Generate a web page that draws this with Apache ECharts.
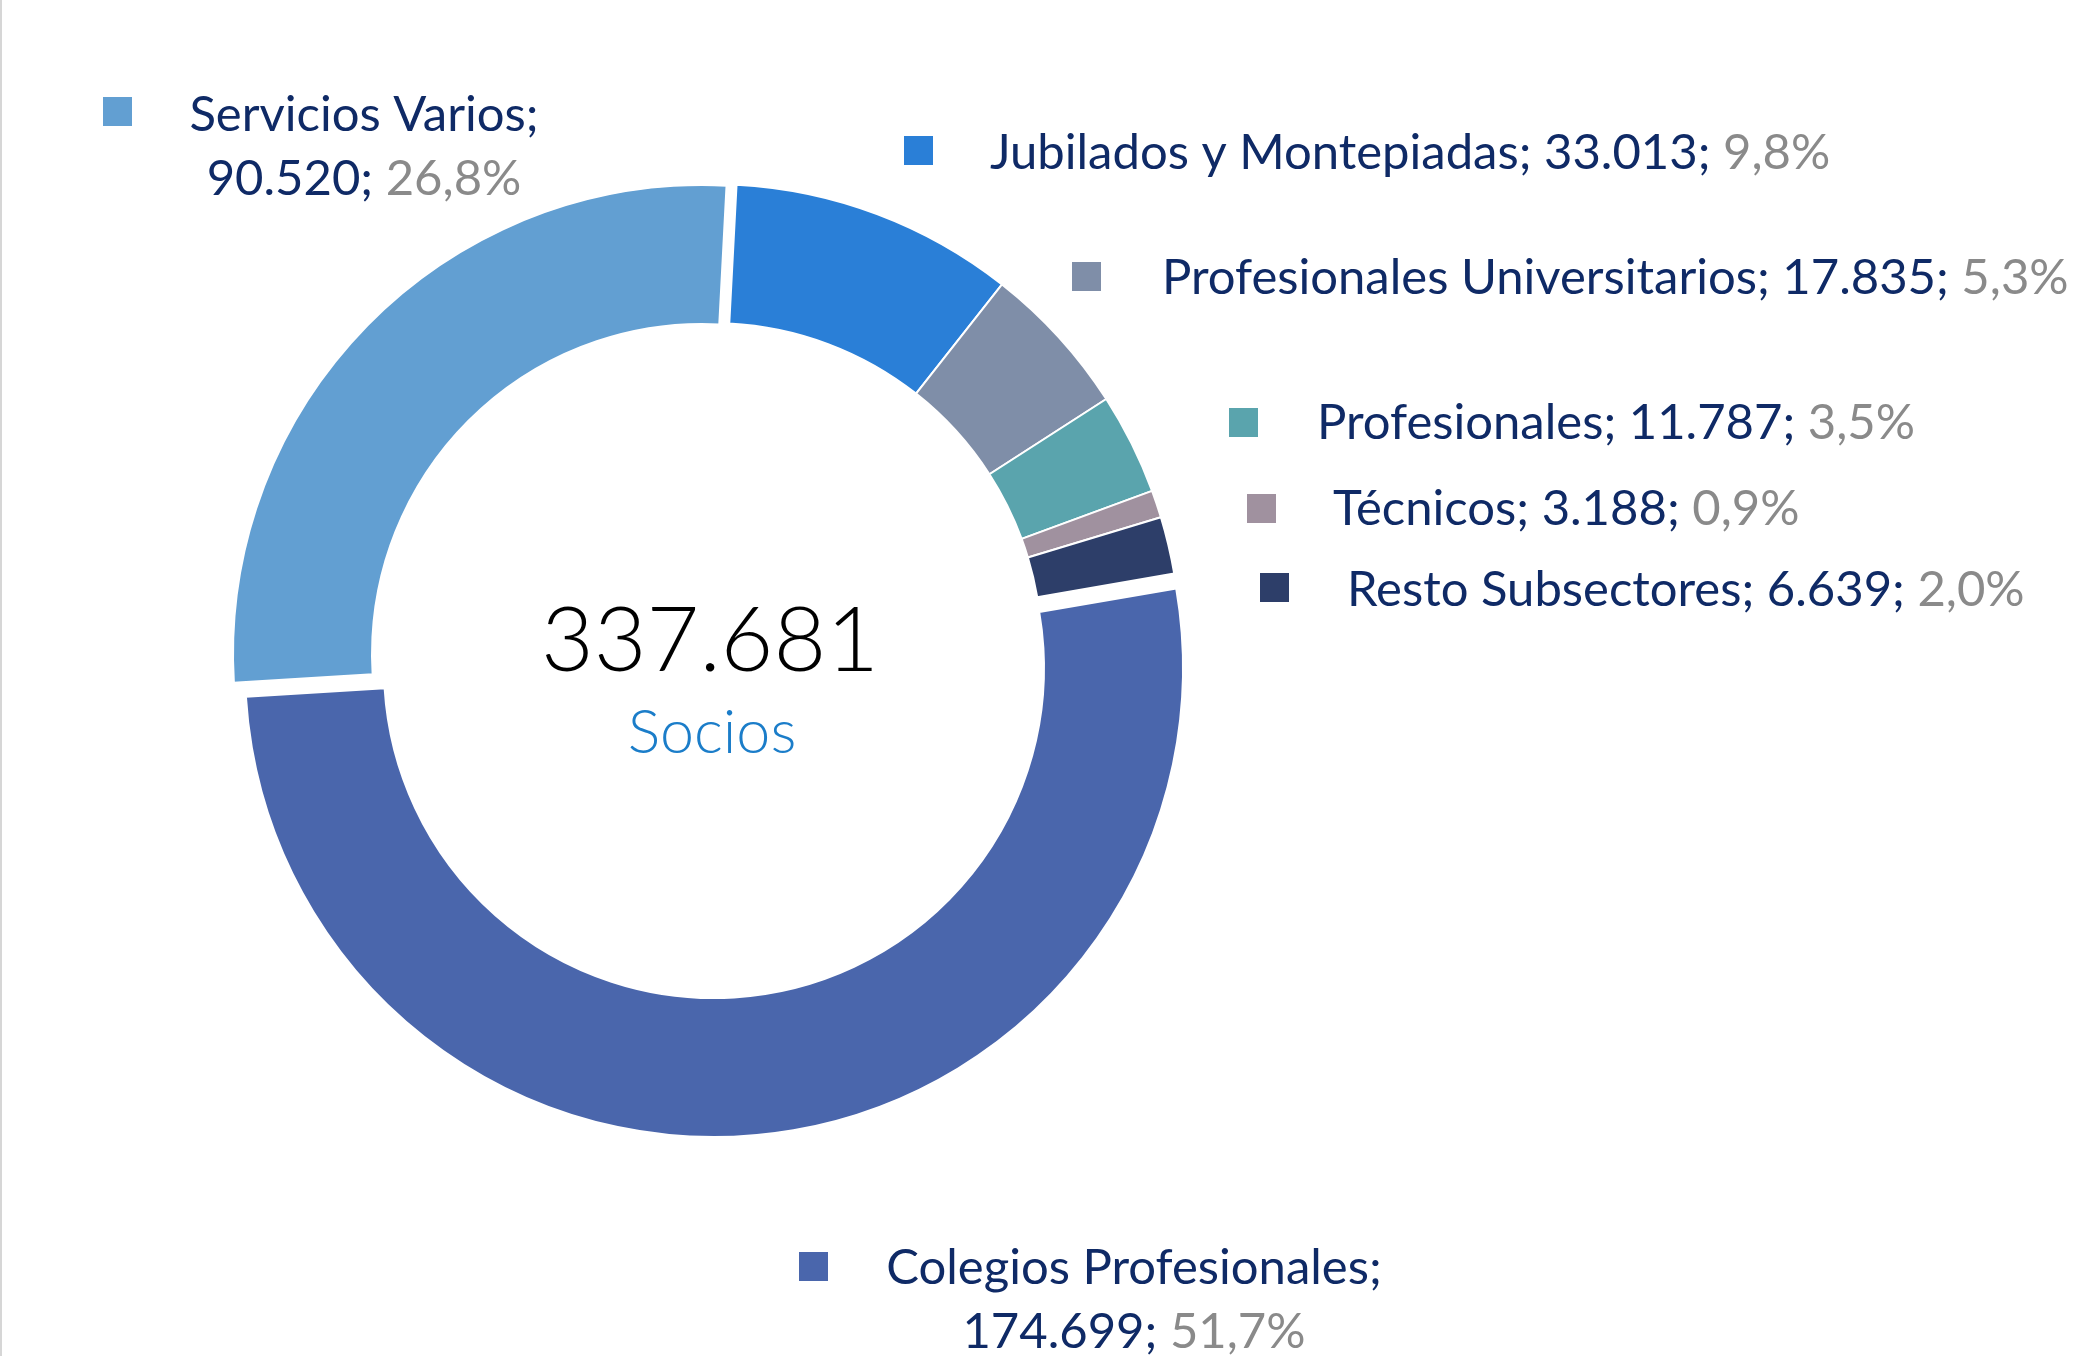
<!DOCTYPE html>
<html>
<head>
<meta charset="utf-8">
<script src="https://cdn.jsdelivr.net/npm/echarts@6/dist/echarts.min.js"></script>
<style>
html,body{margin:0;padding:0;background:#fff;}
#chart{width:2075px;height:1356px;}
</style>
</head>
<body>
<div id="chart"></div>
<script>
// ---- data ----
const categories = ['Jubilados y Montepiadas', 'Profesionales Universitarios', 'Profesionales', 'Técnicos', 'Resto Subsectores', 'Colegios Profesionales', 'Servicios Varios'];
const socios = [33013, 17835, 11787, 3188, 6639, 174699, 90520];
const centerCaption = 'Socios';

// ---- styles / layout ----
const colors = ['#2A7FD7', '#7F8EA8', '#5AA4AD', '#A0919F', '#2D3E69', '#4A66AC', '#629FD2'];
// label anchor (text) positions and legend-square positions
const labelPos = [
  {x: 990,  y: 153,  align: 'left'},
  {x: 1162, y: 278,  align: 'left'},
  {x: 1317, y: 423,  align: 'left'},
  {x: 1333, y: 509,  align: 'left'},
  {x: 1347, y: 590,  align: 'left'},
  {x: 1134, y: 1300, align: 'center', twoLines: true},
  {x: 364,  y: 147,  align: 'center', twoLines: true}
];
const squarePos = [[904,136],[1072,262],[1229,408],[1247,494],[1260,573],[799,1252],[103,97]];
// which slices are pulled out of the ring, and their own centre
const explodedCenters = {5: [714, 668], 6: [702, 654]};
const mainCenter = [712, 653];
const radius = [330, 469];
const startAngle = 87;
const labelFontSize = 49;

const total = socios.reduce((a, b) => a + b, 0);
function fmtNum(v) { return String(v).replace(/\B(?=(\d{3})+(?!\d))/g, '.'); }
function fmtPct(v) { return (v / total * 100).toFixed(1).replace('.', ','); }

function makeData(visibleFn) {
  return categories.map((c, i) => ({
    name: c,
    value: socios[i],
    itemStyle: visibleFn(i)
      ? {color: colors[i], borderColor: '#ffffff', borderWidth: 2}
      : {color: 'rgba(0,0,0,0)', borderWidth: 0}
  }));
}

const chart = echarts.init(document.getElementById('chart'), null, {renderer: 'canvas'});

const series = [{
  type: 'pie',
  center: mainCenter,
  radius: radius,
  startAngle: startAngle,
  clockwise: true,
  avoidLabelOverlap: false,
  silent: true,
  emphasis: {disabled: true},
  data: makeData(i => !(i in explodedCenters)),
  label: {
    show: true,
    fontFamily: 'Lato',
    fontSize: labelFontSize,
    lineHeight: 64,
    formatter: function (p) {
      const i = p.dataIndex;
      const v = fmtNum(socios[i]);
      const pc = fmtPct(socios[i]);
      if (labelPos[i].twoLines) {
        return '{n|' + categories[i] + ';}\n{n|' + v + '; }{p|' + pc + '%}';
      }
      return '{n|' + categories[i] + '; ' + v + '; }{p|' + pc + '%}';
    },
    rich: {
      n: {color: '#0F2A66', fontFamily: 'Lato', fontSize: labelFontSize, lineHeight: 64},
      p: {color: '#8A8A8A', fontFamily: 'Lato', fontSize: labelFontSize, lineHeight: 64}
    }
  },
  labelLine: {show: false},
  labelLayout: function (params) {
    const L = labelPos[params.dataIndex];
    return {x: L.x, y: L.y, align: L.align, verticalAlign: 'middle', hideOverlap: false, moveOverlap: false};
  }
}];

Object.keys(explodedCenters).forEach(k => {
  const idx = Number(k);
  series.push({
    type: 'pie',
    center: explodedCenters[k],
    radius: radius,
    startAngle: startAngle,
    clockwise: true,
    silent: true,
    emphasis: {disabled: true},
    label: {show: false},
    labelLine: {show: false},
    data: makeData(i => i === idx)
  });
});

const legends = categories.map((c, i) => ({
  show: true,
  left: squarePos[i][0],
  top: squarePos[i][1],
  padding: 0,
  itemGap: 0,
  itemWidth: 29,
  itemHeight: 29,
  selectedMode: false,
  formatter: function () { return ''; },
  textStyle: {fontSize: 1},
  data: [{name: c, icon: 'rect', itemStyle: {color: colors[i], borderWidth: 0}}]
}));

chart.setOption({
  backgroundColor: '#ffffff',
  animation: false,
  legend: legends,
  series: series,
  graphic: [
    {type: 'rect', left: 0, top: 0, shape: {width: 2, height: 1356}, style: {fill: '#D6D6D6'}, silent: true},
    {type: 'text', x: mainCenter[0] - 2, y: 642, silent: true,
     style: {text: fmtNum(total), fill: '#000000', font: '300 91px Lato', textAlign: 'center', textVerticalAlign: 'middle'}},
    {type: 'text', x: mainCenter[0], y: 733, silent: true,
     style: {text: centerCaption, fill: '#1B7DC9', font: '300 61px Lato', textAlign: 'center', textVerticalAlign: 'middle'}}
  ]
});
</script>
</body>
</html>
